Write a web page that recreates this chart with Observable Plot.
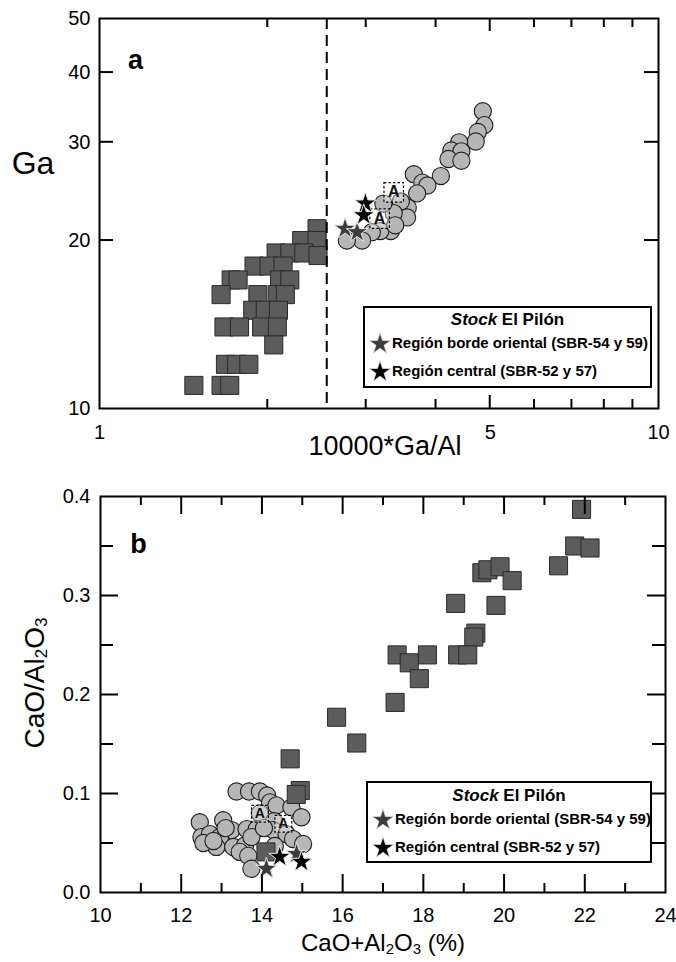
<!DOCTYPE html>
<html><head><meta charset="utf-8">
<script src="https://cdn.jsdelivr.net/npm/d3@7"></script>
<script src="https://cdn.jsdelivr.net/npm/@observablehq/plot@0.6"></script>
<style>
body{margin:0;background:#fff;font-family:"Liberation Sans",Arial,sans-serif;}
#wrap{position:relative;width:676px;height:962px;overflow:hidden;}
.panel{position:absolute;left:0;}
.legend{position:absolute;box-sizing:border-box;border:2px solid #000;background:#fff;font-weight:bold;color:#000;}
.legend .ttl{position:absolute;left:0;right:0;text-align:center;font-size:17px;}
.legend .item{position:absolute;left:0;white-space:nowrap;font-size:15px;}
.legend .item svg{position:absolute;left:2px;top:-12px;}
.legend .item span{position:absolute;left:27px;top:-9px;}
</style></head><body><div id="wrap"></div>
<script>
const FONT = '"Liberation Sans", Arial, sans-serif';

// ---------- Panel a: Ga vs 10000*Ga/Al ----------
const aSquareX = [2.45, 2.30, 2.45, 2.07, 2.19, 2.32, 2.46, 1.89, 2.01, 2.13, 1.72, 1.77, 2.10, 2.19,
                  1.65, 1.92, 2.08, 2.15, 1.88, 1.98, 2.09, 1.67, 1.78, 1.95, 2.08, 2.05, 1.68, 1.76, 1.85,
                  1.475, 1.65, 1.71];
const aSquareY = [21, 20, 20, 19, 19, 19, 18.8, 18, 18, 18, 17, 17, 17, 17,
                  16, 16, 16, 16, 15, 15, 15, 14, 14, 14, 14, 13, 12, 12, 12,
                  11, 11, 11];
const aCircleX = [4.85, 4.88, 4.75, 4.71, 4.40, 4.26, 4.44, 4.21, 4.44, 4.08, 3.65, 3.78, 3.86, 3.70,
                  3.56, 3.55, 3.46, 3.36, 3.22, 3.32, 3.18, 3.07, 2.95, 2.77, 3.38];
const aCircleY = [34.1, 32.2, 31.3, 30.1, 30.0, 29.0, 28.9, 28.0, 27.8, 26.1, 26.3, 25.4, 25.1, 24.3,
                  22.9, 22.0, 23.5, 22.4, 23.3, 20.8, 20.8, 20.7, 20.0, 20.0, 21.3];
const aStarBorderX = [2.75, 2.89];
const aStarBorderY = [21.0, 20.7];
const aStarCentralX = [2.99, 2.97];
const aStarCentralY = [23.3, 22.2];
const aBoxX = [3.36, 3.17];
const aBoxY = [24.4, 21.9];
const aXTicks = [1, 5, 10];
const aXMinor = [2, 3, 4, 6, 7, 8, 9];
const aXMajor = [5];
const aYTicks = [10, 20, 30, 40, 50];
const aYInner = [20, 30, 40];
const gaAlLimit = [2.55];

// ---------- Panel b: CaO/Al2O3 vs CaO+Al2O3 ----------
const bSquareX = [21.92, 21.75, 22.13, 21.35, 19.45, 19.6, 19.9, 20.2, 18.8, 19.8, 19.3, 19.25,
                  18.85, 19.1, 17.35, 17.65, 18.1, 17.9, 17.3, 15.85, 16.35, 14.7, 14.95, 14.85, 14.1];
const bSquareY = [0.387, 0.350, 0.348, 0.330, 0.323, 0.326, 0.329, 0.315, 0.292, 0.290, 0.262, 0.258,
                  0.240, 0.240, 0.240, 0.232, 0.240, 0.216, 0.192, 0.177, 0.151, 0.135, 0.103, 0.099, 0.041];
const bCircleX = [13.37, 13.68, 13.95, 14.13, 14.20, 14.36, 14.73, 13.95, 14.30, 14.98, 12.46, 13.04,
                  13.25, 13.62, 13.87, 12.50, 12.71, 12.96, 14.28, 14.61, 14.77, 15.02, 12.87, 13.29,
                  13.58, 13.74, 13.45, 13.66, 13.74, 14.32, 12.55, 13.10, 14.05, 12.80];
const bCircleY = [0.102, 0.102, 0.102, 0.098, 0.091, 0.088, 0.086, 0.080, 0.072, 0.076, 0.071, 0.073,
                  0.063, 0.064, 0.064, 0.056, 0.059, 0.056, 0.063, 0.059, 0.054, 0.049, 0.046, 0.046,
                  0.0475, 0.056, 0.041, 0.037, 0.024, 0.047, 0.050, 0.065, 0.065, 0.052];
const bStarBorderX = [14.86, 14.11];
const bStarBorderY = [0.039, 0.024];
const bStarCentralX = [14.44, 14.98];
const bStarCentralY = [0.036, 0.031];
const bBoxX = [13.95, 14.53];
const bBoxY = [0.0795, 0.0694];
const bXTicks = [10, 12, 14, 16, 18, 20, 22, 24];
const bXMajor = [12, 14, 16, 18, 20, 22];
const bXMinor = [11, 13, 15, 17, 19, 21, 23];
const bYTicks = [0, 0.1, 0.2, 0.3, 0.4];
const bYMajor = [0.1, 0.2, 0.3];
const bYMinor = [0.05, 0.15, 0.25, 0.35];

const legendTitle = ["Stock", " El Pilón"];
const legendItems = ["Región borde oriental (SBR-54 y 59)", "Región central (SBR-52 y 57)"];

const zip = (xs, ys) => xs.map((x, i) => ({x, y: ys[i]}));

const SQ_FILL = "#5c5c5c", SQ_STROKE = "#2a2a2a";
const CI_FILL = "#b6b6b6", CI_STROKE = "#1e1e1e";
const STAR_BORDER = "#3c3c3c", STAR_CENTRAL = "#000";

function dataMarks(sq, ci, sb, sc, bx, opt) {
  const sqMark = Plot.dot(sq, {x: "x", y: "y", symbol: "square", r: 10.2, fill: SQ_FILL, stroke: SQ_STROKE, strokeWidth: 1});
  const ciMark = Plot.dot(ci, {x: "x", y: "y", r: 8.6, fill: CI_FILL, stroke: CI_STROKE, strokeWidth: 1.1});
  return [
    ...(opt.circlesFirst ? [ciMark, sqMark] : [sqMark, ciMark]),
    Plot.dot(bx, {x: "x", y: "y", symbol: "square", r: opt.boxR, fill: "white", fillOpacity: 0.35, stroke: "#000", strokeWidth: 1.2, strokeDasharray: "2.5,2"}),
    Plot.text(bx, {x: "x", y: "y", text: () => "A", fontWeight: "bold", fontSize: opt.boxFont, fill: "#111"}),
    Plot.dot(sb, {x: "x", y: "y", symbol: "star", r: 6.8, fill: STAR_BORDER, stroke: "#e6e6e6", strokeWidth: 1}),
    Plot.dot(sc, {x: "x", y: "y", symbol: "star", r: 6.8, fill: STAR_CENTRAL, stroke: "#e6e6e6", strokeWidth: 1}),
  ];
}

// inward frame ticks drawn as short rules inset from the frame edges
function xTicksIn(values, len, innerH) {
  return [
    Plot.ruleX(values, {x: d => d, insetTop: innerH - len, strokeWidth: 2}),
    Plot.ruleX(values, {x: d => d, insetBottom: innerH - len, strokeWidth: 2})
  ];
}
function yTicksIn(values, len, innerW) {
  return [
    Plot.ruleY(values, {y: d => d, insetRight: innerW - len, strokeWidth: 2}),
    Plot.ruleY(values, {y: d => d, insetLeft: innerW - len, strokeWidth: 2})
  ];
}

const wrap = document.getElementById("wrap");

// ----- Panel a -----
const aH = 470, aTop = 18, aBottom = 62;
const aLeft = 99, aRight = 18;
const aXDomain = [aXTicks[0], aXTicks[aXTicks.length - 1]];
const aYDomain = [aYTicks[0], aYTicks[aYTicks.length - 1]];
const plotA = Plot.plot({
  width: 676, height: aH,
  marginLeft: aLeft, marginRight: aRight, marginTop: aTop, marginBottom: aBottom,
  style: {fontFamily: FONT, fontSize: "20px", background: "white", color: "#000", overflow: "visible"},
  x: {type: "log", domain: aXDomain},
  y: {type: "log", domain: aYDomain},
  marks: [
    ...dataMarks(zip(aSquareX, aSquareY), zip(aCircleX, aCircleY), zip(aStarBorderX, aStarBorderY),
                 zip(aStarCentralX, aStarCentralY), zip(aBoxX, aBoxY), {circlesFirst: false, boxR: 11, boxFont: 16}),
    Plot.ruleX(gaAlLimit, {strokeDasharray: "11,6", strokeWidth: 2}),
    Plot.frame({strokeWidth: 2}),
    Plot.axisX({ticks: aXTicks, tickSize: 0, tickPadding: 16, tickFormat: d => String(d), label: null}),
    Plot.axisY({ticks: aYTicks, tickSize: 0, tickPadding: 9, tickFormat: d => String(d), label: null}),
    Plot.text(["a"], {text: d => d, frameAnchor: "top-left", textAnchor: "middle", lineAnchor: "middle", dx: 36, dy: 42, fontWeight: "bold", fontSize: 27})
  ]
});
plotA.classList.add("panel");
plotA.style.top = "0px";
wrap.appendChild(plotA);
{
  const s = d3.select(plotA);
  // inward frame ticks, positioned through the plot's own scales
  const xs = plotA.scale("x"), ys = plotA.scale("y");
  const yBot = ys.apply(aYDomain[0]), yTopPx = ys.apply(aYDomain[1]);
  const xL = xs.apply(aXDomain[0]), xR = xs.apply(aXDomain[1]);
  const g = s.append("g").attr("stroke", "#000").attr("stroke-width", 2);
  const xTick = (vals, len) => vals.forEach(v => {
    const px = xs.apply(v);
    g.append("line").attr("x1", px).attr("x2", px).attr("y1", yBot).attr("y2", yBot - len);
    g.append("line").attr("x1", px).attr("x2", px).attr("y1", yTopPx).attr("y2", yTopPx + len);
  });
  const yTick = (vals, len) => vals.forEach(v => {
    const py = ys.apply(v);
    g.append("line").attr("x1", xL).attr("x2", xL + len).attr("y1", py).attr("y2", py);
    g.append("line").attr("x1", xR).attr("x2", xR - len).attr("y1", py).attr("y2", py);
  });
  xTick(aXMinor, 9);
  xTick(aXMajor, 13);
  yTick(aYInner, 14);
  s.append("text").attr("x", 33).attr("y", 163).attr("text-anchor", "middle").attr("dominant-baseline", "central")
    .attr("font-size", 32).attr("fill", "#000").text("Ga");
  s.append("text").attr("x", 385).attr("y", 446).attr("text-anchor", "middle").attr("dominant-baseline", "central")
    .attr("font-size", 27).attr("fill", "#000").text("10000*Ga/Al");
}

// ----- Panel b -----
const bH = 492, bTop = 26, bBottom = 70, bInnerH = bH - bTop - bBottom;
const bLeft = 100, bRight = 11, bInnerW = 676 - bLeft - bRight;
const plotB = Plot.plot({
  width: 676, height: bH,
  marginLeft: bLeft, marginRight: bRight, marginTop: bTop, marginBottom: bBottom,
  style: {fontFamily: FONT, fontSize: "20px", background: "white", color: "#000", overflow: "visible"},
  x: {domain: [10, 24]},
  y: {domain: [0, 0.4]},
  marks: [
    ...dataMarks(zip(bSquareX, bSquareY), zip(bCircleX, bCircleY), zip(bStarBorderX, bStarBorderY),
                 zip(bStarCentralX, bStarCentralY), zip(bBoxX, bBoxY), {circlesFirst: true, boxR: 9.5, boxFont: 14}),
    ...xTicksIn(bXMinor, 9, bInnerH),
    ...xTicksIn(bXMajor, 18, bInnerH),
    ...yTicksIn(bYMajor, 18, bInnerW),
    ...yTicksIn(bYMinor, 13, bInnerW),
    Plot.frame({strokeWidth: 2}),
    Plot.axisX({ticks: bXTicks, tickSize: 0, tickPadding: 15, tickFormat: d => String(d), label: null}),
    Plot.axisY({ticks: bYTicks, tickSize: 0, tickPadding: 10, tickFormat: d3.format(".1f"), label: null}),
    Plot.text(["b"], {text: d => d, frameAnchor: "top-left", textAnchor: "middle", lineAnchor: "middle", dx: 38, dy: 48, fontWeight: "bold", fontSize: 27})
  ]
});
plotB.classList.add("panel");
plotB.style.top = "470px";
wrap.appendChild(plotB);
{
  const s = d3.select(plotB);
  const yl = s.append("text").attr("transform", "translate(34,213) rotate(-90)").attr("text-anchor", "middle")
    .attr("dominant-baseline", "central").attr("font-size", 28).attr("fill", "#000");
  yl.append("tspan").text("CaO/Al");
  yl.append("tspan").attr("font-size", 17).attr("dy", 7).text("2");
  yl.append("tspan").attr("dy", -7).text("O");
  yl.append("tspan").attr("font-size", 17).attr("dy", 7).text("3");
  const xl = s.append("text").attr("x", 383).attr("y", 472).attr("text-anchor", "middle")
    .attr("dominant-baseline", "central").attr("font-size", 24).attr("fill", "#000");
  xl.append("tspan").text("CaO+Al");
  xl.append("tspan").attr("font-size", 15).attr("dy", 6).text("2");
  xl.append("tspan").attr("dy", -6).text("O");
  xl.append("tspan").attr("font-size", 15).attr("dy", 6).text("3");
  xl.append("tspan").attr("dy", -6).text(" (%)");
}

// ----- Legends -----
function starSvg(fill) {
  const path = d3.symbol(d3.symbolStar, 140)();
  return `<svg width="26" height="26" viewBox="-13 -13 26 26"><path d="${path}" fill="${fill}" stroke="#ddd" stroke-width="0.8"/></svg>`;
}
function addLegend(left, top, width, height, tY, i1, i2) {
  const d = document.createElement("div");
  d.className = "legend";
  Object.assign(d.style, {left: left + "px", top: top + "px", width: width + "px", height: height + "px"});
  d.innerHTML =
    `<div class="ttl" style="top:${tY - 10}px"><i>${legendTitle[0]}</i>${legendTitle[1]}</div>` +
    `<div class="item" style="top:${i1}px">${starSvg(STAR_BORDER)}<span>${legendItems[0]}</span></div>` +
    `<div class="item" style="top:${i2}px">${starSvg(STAR_CENTRAL)}<span>${legendItems[1]}</span></div>`;
  wrap.appendChild(d);
}
addLegend(363, 306, 289, 82, 12, 35, 63);
addLegend(366, 781, 286, 82, 13, 36, 64);
</script>
</body></html>
